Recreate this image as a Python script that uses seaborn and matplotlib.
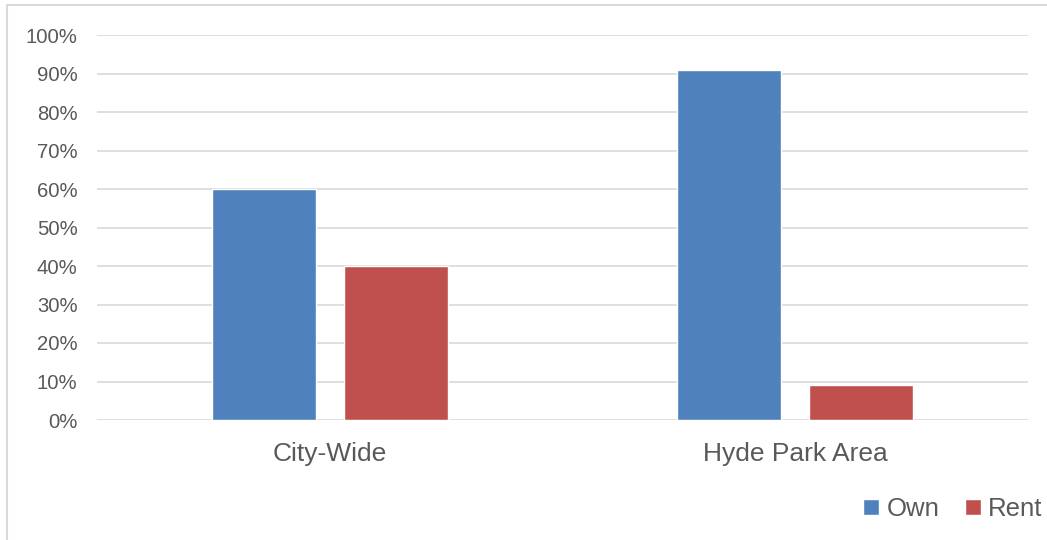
import pandas as pd
import seaborn as sns
import matplotlib.pyplot as plt
from matplotlib.patches import Rectangle
from matplotlib.ticker import PercentFormatter

# values
categories = ["City-Wide", "Hyde Park Area"]
own = [0.60, 0.91]
rent = [0.40, 0.09]
series = ["Own", "Rent"]
colors = ["#4F81BD", "#C0504D"]

data = pd.DataFrame({
    "area": categories * 2,
    "tenure": ["Own"] * len(categories) + ["Rent"] * len(categories),
    "share": own + rent,
})

sns.set_style("white")
plt.rcParams['font.family'] = ['Liberation Sans', 'DejaVu Sans']
text_color = "#595959"
grid_color = "#D9D9D9"

fig = plt.figure(figsize=(10.47, 5.40), dpi=100)
ax = fig.add_axes([97 / 1047, 1 - 420 / 540, (1028 - 97) / 1047, (420 - 35) / 540])

sns.barplot(data=data, x="area", y="share", hue="tenure", hue_order=series,
            palette=colors, width=0.567, gap=0.212, saturation=1,
            order=categories, ax=ax)

ax.set_ylim(0, 1)
ax.set_xlim(-0.5, 1.5)
ax.set_yticks([i / 10 for i in range(11)])
ax.yaxis.set_major_formatter(PercentFormatter(1.0, decimals=0))
ax.grid(axis="y", color=grid_color, linewidth=1.2)
ax.set_axisbelow(True)
for s in ax.spines.values():
    s.set_visible(False)
ax.tick_params(axis="y", length=0, pad=14, labelsize=14.6, labelcolor=text_color)
ax.tick_params(axis="x", length=0, pad=16, labelsize=19, labelcolor=text_color)
ax.set_xlabel("")
ax.set_ylabel("")

handles, labels = ax.get_legend_handles_labels()
ax.get_legend().remove()
fig.legend(handles, labels, loc="center", bbox_to_anchor=(953 / 1047, 1 - 509 / 540),
           ncol=2, frameon=False, fontsize=18.5, labelcolor=text_color,
           handlelength=0.6, handleheight=0.6, handletextpad=0.3, columnspacing=1.0)

# light chart-area border (left and top visible)
fig.patches.append(Rectangle((7 / 1047, -0.1), 1.2, 0.1 + 1 - 5 / 540,
                             transform=fig.transFigure, fill=False,
                             edgecolor=grid_color, linewidth=1.5))

fig.savefig("out.png", dpi=100)
